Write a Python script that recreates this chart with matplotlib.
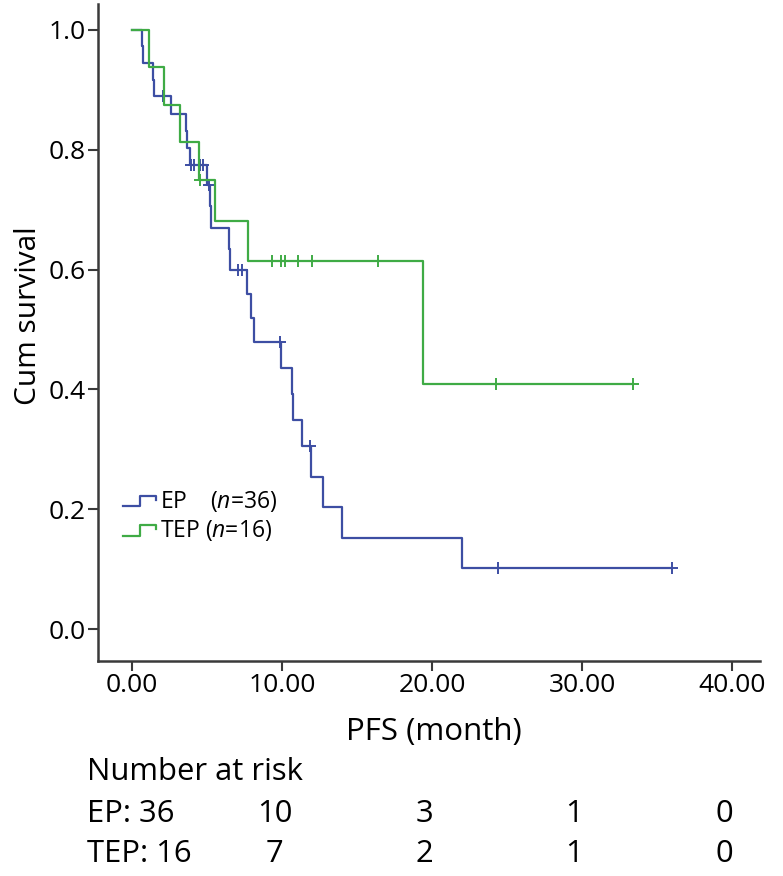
import numpy as np
import matplotlib
matplotlib.use("Agg")
import matplotlib.pyplot as plt
from matplotlib.legend_handler import HandlerBase
from matplotlib.lines import Line2D
import matplotlib.transforms as mtransforms

plt.rcParams['font.family'] = ['Open Sans', 'DejaVu Sans']
plt.rcParams['mathtext.fontset'] = 'custom'
plt.rcParams['mathtext.rm'] = 'Open Sans'
plt.rcParams['mathtext.it'] = 'Open Sans:italic'

# ---- data (months, event=1 / censored=0) ----
ep_time = [0.65, 0.72, 1.42, 1.48, 2.09, 2.58, 3.60, 3.65, 3.87, 3.95, 4.10, 4.55,
           4.75, 4.98, 5.10, 5.20, 5.25, 6.49, 6.55, 7.09, 7.31, 7.64, 7.91, 8.13,
           9.87, 9.90, 10.69, 10.75, 11.31, 11.87, 11.93, 12.71, 13.98, 21.98, 24.38, 35.98]
ep_event = [1, 1, 1, 1, 0, 1, 1, 1, 1, 0, 0, 0,
            0, 1, 0, 1, 1, 1, 1, 0, 0, 1, 1, 1,
            0, 1, 1, 1, 1, 0, 1, 1, 1, 1, 0, 0]
tep_time = [1.13, 2.16, 3.20, 4.47, 4.50, 5.53, 7.76, 9.31, 9.91, 10.20, 11.09,
            11.98, 16.40, 19.42, 24.30, 33.40]
tep_event = [1, 1, 1, 1, 0, 1, 1, 0, 0, 0, 0, 0, 0, 1, 0, 0]

groups = ["EP", "TEP"]
group_n = [36, 16]
risk_times = [0, 10, 20, 30, 40]
ep_risk = [36, 10, 3, 1, 0]
tep_risk = [16, 7, 2, 1, 0]
xticks = [0, 10, 20, 30, 40]
yticks = [0.0, 0.2, 0.4, 0.6, 0.8, 1.0]

BLUE = '#3d4ea3'
GREEN = '#3fab45'


def km(times, events):
    t = np.asarray(times, float)
    e = np.asarray(events, int)
    order = np.lexsort((e * -1, t))
    t, e = t[order], e[order]
    n = len(t)
    s = 1.0
    xs, ys = [0.0], [1.0]
    cx, cy = [], []
    at_risk = n
    for ti, ei in zip(t, e):
        if ei == 1:
            s = s * (at_risk - 1) / at_risk
            xs.append(ti)
            ys.append(s)
        else:
            cx.append(ti)
            cy.append(s)
        at_risk -= 1
    xs.append(t.max())
    ys.append(s)
    return np.array(xs), np.array(ys), np.array(cx), np.array(cy)


W, H = 783, 876
fig = plt.figure(figsize=(W / 100, H / 100), dpi=100)
ax = fig.add_axes([98 / W, 1 - 661 / H, (760 - 98) / W, (661 - 4) / H])

handles = []
for times, events, col in [(ep_time, ep_event, BLUE), (tep_time, tep_event, GREEN)]:
    xs, ys, cx, cy = km(times, events)
    ln, = ax.step(xs, ys, where='post', color=col, lw=1.6)
    ax.plot(cx, cy, ls='none', marker='+', ms=9, mew=1.4, color=col)
    handles.append(ln)

ax.set_xlim(-2.27, 41.87)
ax.set_ylim(-0.053, 1.043)
ax.set_xticks(xticks)
ax.set_xticklabels([f"{v:.2f}" for v in xticks])
ax.set_yticks(yticks)
ax.set_yticklabels([f"{v:.1f}" for v in yticks])
for s in ['top', 'right']:
    ax.spines[s].set_visible(False)
for s in ['left', 'bottom']:
    ax.spines[s].set_color('#3a3a3a')
    ax.spines[s].set_linewidth(1.8)
ax.tick_params(direction='out', length=7, width=1.5, colors='#3a3a3a',
               labelcolor='black', labelsize=19, pad=2)
fig.text(434 / W, 1 - 740 / H, "PFS (month)", fontsize=22.5, ha='center', va='baseline')
fig.text(29 / W, 1 - 316 / H, "Cum survival", fontsize=21.5, ha='center', va='center',
         rotation=90)


class StepHandler(HandlerBase):
    def create_artists(self, legend, orig_handle, xdescent, ydescent,
                       width, height, fontsize, trans):
        xs = np.array([0.0, 0.5, 0.5, 0.95, 0.95]) * width - xdescent
        ys = np.array([0.12, 0.12, 0.75, 0.75, 0.5]) * height - ydescent
        l = Line2D(xs, ys, color=orig_handle.get_color(), lw=1.6)
        l.set_transform(trans)
        return [l]


labels = [r"EP    ($\it{n}$=36)", r"TEP ($\it{n}$=16)"]
ax.legend(handles, labels, handler_map={type(handles[0]): StepHandler()},
          loc='upper left', bbox_to_anchor=(0.038, 0.262), frameon=False,
          fontsize=16.5, handlelength=1.5, handletextpad=0.1, labelspacing=0.2,
          borderaxespad=0, borderpad=0)

# ---- number at risk table ----
fig.text(87 / W, 1 - 780 / H, "Number at risk", fontsize=22.3, ha='left', va='baseline')
trans = mtransforms.blended_transform_factory(ax.transData, fig.transFigure)
for name, risk, yb in [("EP", ep_risk, 822), ("TEP", tep_risk, 862)]:
    fig.text(87 / W, 1 - yb / H, f"{name}: {risk[0]}", fontsize=22.3, ha='left', va='baseline')
    for t, r in zip(risk_times[1:], risk[1:]):
        ax.text(t - 0.5, 1 - yb / H, str(r), transform=trans, fontsize=22.3,
                ha='center', va='baseline', clip_on=False)

fig.savefig("out.png", dpi=100)
